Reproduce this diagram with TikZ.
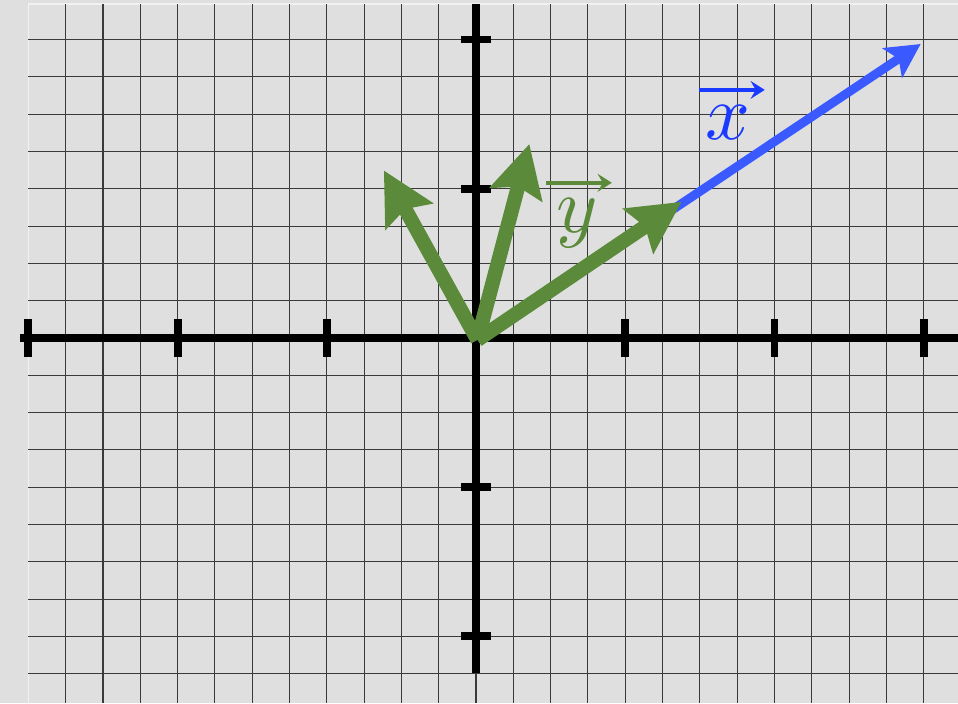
\documentclass[tikz,border=0pt]{standalone}
\usetikzlibrary{arrows.meta}
\definecolor{bg}{HTML}{DFDFDF}
\definecolor{gridc}{HTML}{3A3A3A}
\definecolor{vgreen}{HTML}{5A8A3A}
\definecolor{vblue}{HTML}{3A5AFF}
\definecolor{tblue}{HTML}{1A3AFF}
\tikzset{
  gridline/.style={draw=gridc, line width=0.85pt},
  axisline/.style={draw=black, line width=6pt},
  vecgreen/.style={draw=vgreen, line width=11pt, line join=miter,
    -{Stealth[length=13.9mm,width=14.2mm,inset=2.1mm]}},
  vecblue/.style={draw=vblue, line width=6.8pt,
    -{Stealth[length=9.1mm,width=9.4mm,inset=2mm]}},
  lblarrow/.style={line width=3pt, -{Stealth[length=3.8mm,width=4.8mm,inset=1.4mm]}},
  lbl/.style={inner sep=0pt, anchor=base, scale=6}
}
\begin{document}
\begin{tikzpicture}[x=1cm,y=1cm]
\useasboundingbox (-12.76,-9.79) rectangle (12.92,9.06);
\fill[bg] (-12.76,-9.79) rectangle (12.92,9.06);
\draw[white!55!bg, line width=1pt] (-12,-9.79) -- (-12,8.95) -- (12.92,8.95);
% grid
\foreach \x in {-11,...,12} \draw[gridline] (\x,-9.79) -- (\x,8.95);
\foreach \y in {-9,...,8} \draw[gridline] (-12,\y) -- (12.92,\y);
% axes
\draw[axisline] (-12.22,0) -- (12.92,0);
\draw[axisline] (0,-8.98) -- (0,8.95);
\foreach \x in {-12,-8,-4,4,8,12} \draw[axisline] (\x,-0.52) -- (\x,0.52);
\foreach \y in {-8,-4,4,8} \draw[axisline] (-0.39,\y) -- (0.39,\y);
% vectors
\coordinate (O) at (0.04,-0.05);
\coordinate (tipx) at (11.92,7.88);
\coordinate (tipa) at (-2.47,4.49);
\coordinate (tipb) at (1.43,5.20);
\coordinate (tipc) at (5.51,3.65);
\draw[vecblue] (O) -- (tipx);
\draw[vecgreen] (O) -- (tipa);
\draw[vecgreen] (O) -- (tipb);
\draw[vecgreen] (O) -- (tipc);
% labels
\node[lbl, text=tblue] (lx) at (6.76,5.33) {$x$};
\coordinate (xa1) at (5.98,6.65);
\coordinate (xa2) at (7.74,6.65);
\draw[lblarrow, tblue] (xa1) -- (xa2);
\node[lbl, text=vgreen] (ly) at (2.70,2.82) {$y$};
\coordinate (ya1) at (1.88,4.16);
\coordinate (ya2) at (3.64,4.16);
\draw[lblarrow, vgreen] (ya1) -- (ya2);
\end{tikzpicture}
\end{document}
